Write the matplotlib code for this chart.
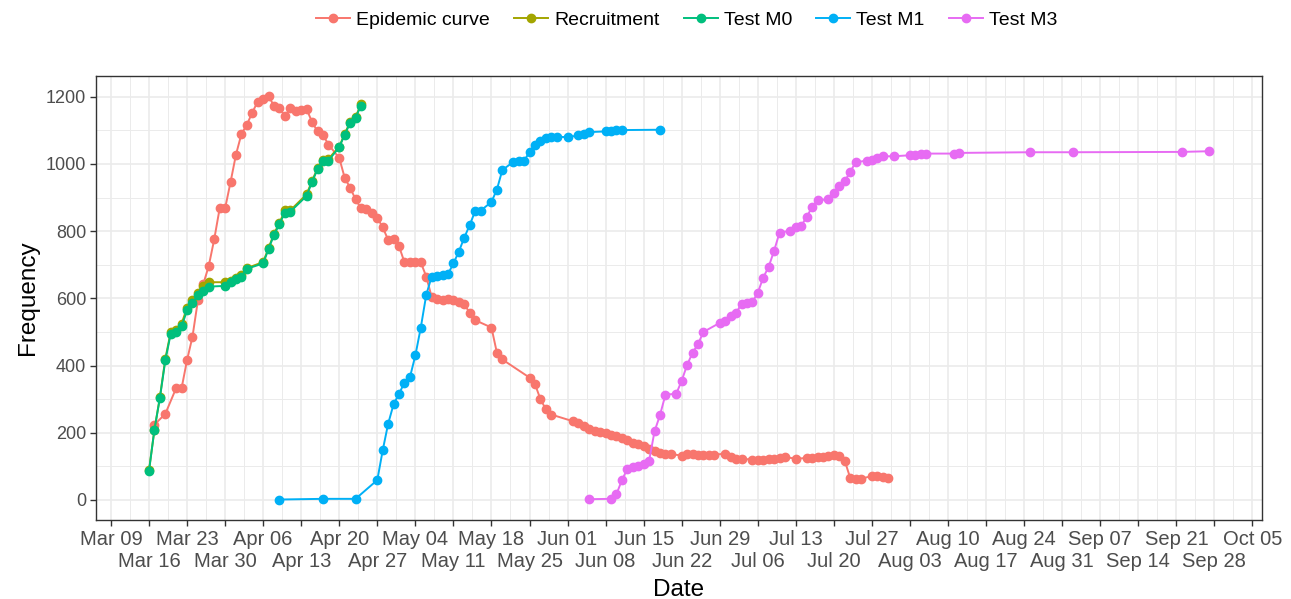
import numpy as np
import pandas as pd
import matplotlib
matplotlib.use("Agg")
import matplotlib.pyplot as plt
import matplotlib.dates as mdates

plt.rcParams['font.family'] = ['Liberation Sans', 'DejaVu Sans']

YEAR = "2020-"

# Epidemic curve
epi_dates = ["03-17", "03-19", "03-21", "03-22", "03-23", "03-24", "03-25", "03-26", "03-27", "03-28",
             "03-29", "03-30", "03-31", "04-01", "04-02", "04-03", "04-04", "04-05", "04-06", "04-07",
             "04-08", "04-09", "04-10", "04-11", "04-12", "04-13", "04-14", "04-15", "04-16", "04-17",
             "04-18", "04-20", "04-21", "04-22", "04-23", "04-24", "04-25", "04-26", "04-27", "04-28",
             "04-29", "04-30", "05-01", "05-02", "05-03", "05-04", "05-05", "05-06", "05-07", "05-08",
             "05-09", "05-10", "05-11", "05-12", "05-13", "05-14", "05-15", "05-18", "05-19", "05-20",
             "05-25", "05-26", "05-27", "05-28", "05-29",
             "06-02", "06-03", "06-04", "06-05", "06-06", "06-07", "06-08", "06-09", "06-10", "06-11",
             "06-12", "06-13", "06-14", "06-15", "06-16", "06-17", "06-18", "06-19", "06-20",
             "06-22", "06-23", "06-24", "06-25", "06-26", "06-27", "06-28",
             "06-30", "07-01", "07-02", "07-03",
             "07-05", "07-06", "07-07", "07-08", "07-09", "07-10", "07-11", "07-13",
             "07-15", "07-16", "07-17", "07-18", "07-19", "07-20", "07-21", "07-22",
             "07-23", "07-24", "07-25", "07-27", "07-28", "07-29", "07-30"]
epi_vals = [224, 256, 333, 333, 416, 486, 594, 643, 697, 776,
            868, 868, 946, 1028, 1089, 1117, 1153, 1186, 1193, 1202,
            1173, 1166, 1143, 1166, 1158, 1161, 1163, 1125, 1097, 1087,
            1058, 1018, 959, 929, 895, 868, 865, 855, 840, 811,
            774, 777, 755, 707, 707, 707, 707, 665, 604, 599,
            594, 599, 594, 589, 582, 557, 535, 513, 438, 418,
            364, 345, 300, 270, 254,
            234, 229, 221, 211, 204, 201, 199, 194, 189, 185,
            178, 170, 165, 160, 152, 145, 140, 138, 136,
            132, 138, 136, 134, 133, 133, 134,
            138, 128, 122, 122,
            120, 120, 120, 122, 123, 125, 128, 122,
            125, 125, 127, 128, 130, 133, 131, 116,
            65, 63, 63, 71, 72, 69, 66]

# Recruitment / Test M0
m0_dates = ["03-16", "03-17", "03-18", "03-19", "03-20", "03-21", "03-22", "03-23", "03-24", "03-25",
            "03-26", "03-27", "03-30", "03-31", "04-01", "04-02", "04-03", "04-06", "04-07", "04-08",
            "04-09", "04-10", "04-11", "04-14", "04-15", "04-16", "04-17", "04-18", "04-20", "04-21",
            "04-22", "04-23", "04-24"]
recruit_vals = [88, 209, 305, 420, 500, 507, 525, 572, 595, 616,
                636, 648, 648, 651, 661, 668, 690, 708, 750, 793,
                824, 862, 862, 910, 950, 987, 1012, 1015, 1052, 1090,
                1125, 1140, 1178]
m0_vals = [86, 209, 303, 415, 495, 500, 517, 564, 586, 609,
           622, 635, 637, 648, 658, 665, 688, 704, 747, 789,
           821, 855, 858, 905, 947, 984, 1008, 1010, 1050, 1087,
           1122, 1138, 1174]

# Test M1
m1_dates = ["04-09", "04-17", "04-23", "04-27", "04-28", "04-29", "04-30", "05-01", "05-02", "05-03",
            "05-04", "05-05", "05-06", "05-07", "05-08", "05-09", "05-10", "05-11", "05-12", "05-13",
            "05-14", "05-15", "05-16", "05-18", "05-19", "05-20", "05-22", "05-23", "05-24", "05-25",
            "05-26", "05-27", "05-28", "05-29", "05-30", "06-01", "06-03", "06-04", "06-05", "06-08",
            "06-09", "06-10", "06-11", "06-18"]
m1_vals = [1, 3, 3, 59, 148, 227, 285, 316, 349, 365,
           430, 513, 610, 665, 667, 669, 672, 704, 739, 781,
           818, 860, 861, 887, 924, 982, 1006, 1008, 1009, 1036,
           1058, 1068, 1076, 1080, 1081, 1080, 1085, 1090, 1095, 1097,
           1099, 1100, 1101, 1102]

# Test M3
m3_dates = ["06-05", "06-09", "06-10", "06-11", "06-12", "06-13", "06-14", "06-15", "06-16", "06-17",
            "06-18", "06-19", "06-21", "06-22", "06-23", "06-24", "06-25", "06-26", "06-29", "06-30",
            "07-01", "07-02", "07-03", "07-04", "07-05", "07-06", "07-07", "07-08", "07-09", "07-10",
            "07-12", "07-13", "07-14", "07-15", "07-16", "07-17", "07-19", "07-20", "07-21", "07-22",
            "07-23", "07-24", "07-26", "07-27", "07-28", "07-29", "07-31", "08-03", "08-04", "08-05",
            "08-06", "08-11", "08-12", "08-25", "09-02", "09-22", "09-27"]
m3_vals = [2, 3, 17, 59, 92, 97, 102, 108, 116, 204,
           252, 313, 316, 355, 402, 438, 464, 500, 527, 533,
           548, 556, 584, 587, 589, 617, 662, 694, 742, 796,
           801, 811, 816, 843, 872, 892, 895, 915, 934, 949,
           977, 1005, 1010, 1013, 1018, 1023, 1023, 1026, 1028, 1030,
           1031, 1031, 1033, 1035, 1035, 1036, 1038]

series = [
    ("Epidemic curve", epi_dates, epi_vals, "#F8766D"),
    ("Recruitment", m0_dates, recruit_vals, "#A3A500"),
    ("Test M0", m0_dates, m0_vals, "#00BF7D"),
    ("Test M1", m1_dates, m1_vals, "#00B0F6"),
    ("Test M3", m3_dates, m3_vals, "#E76BF3"),
]

fig = plt.figure(figsize=(12.91, 5.99), dpi=100)
ax = fig.add_axes([96 / 1291, 1 - 520 / 599, 1166 / 1291, 444 / 599])

for name, d, v, c in series:
    x = pd.to_datetime([YEAR + s for s in d])
    ax.plot(x, v, color=c, lw=1.4, marker="o", ms=6, label=name)

# ggplot-like 5% expansion of the date range
x_lo = mdates.date2num(pd.Timestamp("2020-03-16"))
x_hi = mdates.date2num(pd.Timestamp("2020-09-27"))
pad = 0.05 * (x_hi - x_lo)
xlim = (x_lo - pad, x_hi + pad)

# weekly breaks
ticks = mdates.date2num(pd.date_range("2020-03-09", "2020-10-05", freq="7D"))
labels = [mdates.num2date(t).strftime("%b %d") for t in ticks]
ax.set_xticks(ticks)
ax.set_xticklabels(labels)
minor = [t + 3.5 for t in ticks] + [ticks[0] - 3.5]
ax.set_xticks(minor, minor=True)
ax.set_xlim(*xlim)

ax.set_yticks(np.arange(0, 1201, 200))
ax.set_yticks(np.arange(100, 1201, 200), minor=True)
ax.set_ylim(-60, 1262)

ax.grid(which="major", color="#EBEBEB", lw=1.2)
ax.grid(which="minor", color="#EBEBEB", lw=0.7)
ax.set_axisbelow(True)
for sp in ax.spines.values():
    sp.set_color("#333333")
    sp.set_linewidth(1.0)
ax.tick_params(which="major", length=4, width=1.0, color="#333333", labelcolor="#4D4D4D")
ax.tick_params(axis="x", which="major", labelsize=14.5, pad=3)
ax.tick_params(axis="y", which="major", labelsize=13, pad=3)
ax.tick_params(which="minor", length=0)

# dodge every other date label onto a second row
for i, tk in enumerate(ax.xaxis.get_major_ticks()):
    if i % 2 == 1:
        tk.set_pad(3 + 14.5 * 1.12)

ax.set_xlabel("Date", fontsize=17.5)
ax.set_ylabel("Frequency", fontsize=17.5)
ax.xaxis.set_label_coords(0.5, -0.132)
ax.yaxis.set_label_coords(-0.049, 0.5)

fig.legend(loc="center", bbox_to_anchor=(0.532, 1 - 20 / 599), ncol=5, frameon=False,
           fontsize=14, handlelength=1.75, columnspacing=1.25, handletextpad=0.3)

fig.savefig("out.png", dpi=100)
